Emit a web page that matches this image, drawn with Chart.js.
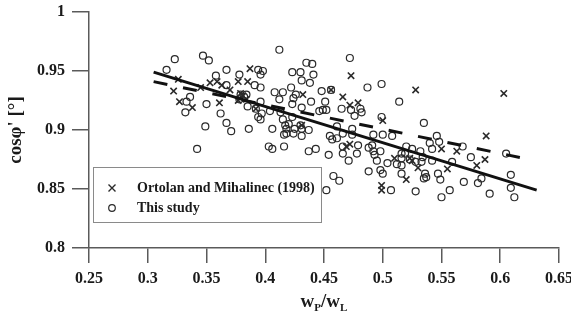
<!DOCTYPE html>
<html>
<head>
<meta charset="utf-8">
<script src="https://cdn.jsdelivr.net/npm/chart.js@4.4.0/dist/chart.umd.min.js"></script>
<style>
  body { margin: 0; background: #fff; }
</style>
</head>
<body>
<canvas id="cosChart" width="571" height="315"></canvas>
<script>
var xTicks = [0.25, 0.3, 0.35, 0.4, 0.45, 0.5, 0.55, 0.6, 0.65];
var yTicks = [0.8, 0.85, 0.9, 0.95, 1];

// Ortolan and Mihalinec (1998) - crosses
var ortolanX = [0.326, 0.322, 0.327, 0.338, 0.353, 0.359, 0.363, 0.370, 0.377, 0.385, 0.387,
    0.361, 0.377, 0.381, 0.345, 0.392, 0.473, 0.456, 0.466, 0.472, 0.479, 0.528, 0.603,
    0.588, 0.500, 0.432, 0.431, 0.472, 0.469, 0.499, 0.499, 0.510, 0.550, 0.563, 0.587,
    0.580, 0.555, 0.530, 0.523, 0.520, 0.525, 0.379, 0.384];
var ortolanY = [0.943, 0.933, 0.924, 0.919, 0.940, 0.941, 0.938, 0.934, 0.941, 0.941, 0.952,
    0.923, 0.925, 0.929, 0.936, 0.918, 0.946, 0.934, 0.928, 0.921, 0.923, 0.934, 0.931,
    0.895, 0.908, 0.930, 0.904, 0.888, 0.886, 0.853, 0.849, 0.876, 0.884, 0.882, 0.875,
    0.870, 0.867, 0.868, 0.876, 0.858, 0.874, 0.931, 0.926];

// This study - circles
var studyX = [0.323, 0.347, 0.352, 0.316, 0.367, 0.378, 0.358, 0.394, 0.398, 0.396,
    0.336, 0.333, 0.332, 0.350, 0.362, 0.367, 0.349, 0.371, 0.386, 0.406,
    0.385, 0.367, 0.412, 0.408, 0.415, 0.412, 0.397, 0.394, 0.396, 0.392,
    0.415, 0.417, 0.418, 0.413, 0.472, 0.435, 0.440, 0.423, 0.430, 0.441,
    0.431, 0.438, 0.422, 0.426, 0.424, 0.423, 0.448, 0.439, 0.451, 0.456,
    0.487, 0.499, 0.514, 0.535, 0.546, 0.449, 0.452, 0.465, 0.481, 0.499,
    0.473, 0.391, 0.396, 0.396, 0.404, 0.431, 0.446, 0.476, 0.482, 0.423,
    0.420, 0.430, 0.403, 0.406, 0.416, 0.437, 0.443, 0.454, 0.458, 0.463,
    0.452, 0.471, 0.466, 0.478, 0.479, 0.488, 0.498, 0.493, 0.498, 0.495,
    0.504, 0.507, 0.516, 0.418, 0.416, 0.425, 0.431, 0.437, 0.455, 0.461,
    0.461, 0.466, 0.474, 0.491, 0.500, 0.508, 0.512, 0.516, 0.540, 0.542,
    0.548, 0.568, 0.575, 0.559, 0.547, 0.549, 0.535, 0.537, 0.569, 0.581,
    0.584, 0.557, 0.550, 0.591, 0.609, 0.609, 0.612, 0.528, 0.532, 0.528,
    0.533, 0.520, 0.525, 0.516, 0.542, 0.516, 0.605, 0.500, 0.488, 0.492,
    0.519, 0.534, 0.536, 0.523, 0.474, 0.492, 0.457, 0.466, 0.342, 0.424,
    0.431, 0.379, 0.382, 0.378, 0.384];
var studyY = [0.960, 0.963, 0.959, 0.951, 0.951, 0.947, 0.946, 0.951, 0.950, 0.947,
    0.928, 0.924, 0.915, 0.922, 0.914, 0.906, 0.903, 0.899, 0.901, 0.901,
    0.920, 0.938, 0.968, 0.932, 0.932, 0.926, 0.914, 0.911, 0.909, 0.918,
    0.909, 0.904, 0.897, 0.915, 0.961, 0.957, 0.956, 0.949, 0.949, 0.947,
    0.942, 0.940, 0.936, 0.930, 0.927, 0.922, 0.933, 0.924, 0.924, 0.934,
    0.936, 0.939, 0.924, 0.906, 0.895, 0.917, 0.917, 0.918, 0.918, 0.911,
    0.917, 0.938, 0.936, 0.924, 0.916, 0.919, 0.916, 0.912, 0.915, 0.911,
    0.905, 0.904, 0.886, 0.884, 0.886, 0.882, 0.884, 0.879, 0.861, 0.857,
    0.849, 0.874, 0.880, 0.880, 0.887, 0.865, 0.866, 0.879, 0.882, 0.874,
    0.872, 0.849, 0.863, 0.901, 0.896, 0.901, 0.895, 0.900, 0.895, 0.893,
    0.903, 0.897, 0.901, 0.887, 0.896, 0.895, 0.871, 0.870, 0.889, 0.884,
    0.890, 0.886, 0.877, 0.873, 0.863, 0.858, 0.859, 0.860, 0.856, 0.855,
    0.859, 0.849, 0.843, 0.846, 0.862, 0.851, 0.843, 0.848, 0.882, 0.873,
    0.873, 0.886, 0.884, 0.880, 0.874, 0.876, 0.880, 0.863, 0.885, 0.882,
    0.880, 0.877, 0.863, 0.875, 0.896, 0.896, 0.892, 0.886, 0.884, 0.897,
    0.901, 0.930, 0.928, 0.926, 0.930];

// regression lines (end points)
var studyFitX = [0.305, 0.631];
var studyFitY = [0.949, 0.849];
var ortolanFitX = [0.305, 0.630];
var ortolanFitY = [0.941, 0.874];

function toPoints(xs, ys) {
    return xs.map(function(x, i) { return { x: x, y: ys[i] }; });
}

// 0.90 -> "0.9", 1.00 -> "1"
function plainLabel(value) {
    return String(Number(value.toFixed(2)));
}

var serif = '"Liberation Serif", "DejaVu Serif", serif';
var axisColor = '#5a5a5a';
var markColor = '#2a2a2a';

// legend box drawn inside the plot, bottom left
var legendBox = {
    id: 'legendBox',
    afterDatasetsDraw: function(chart) {
        var ctx = chart.ctx;
        var ds = chart.data.datasets;
        ctx.save();
        ctx.fillStyle = '#fff';
        ctx.fillRect(93, 167, 228, 55);
        ctx.strokeStyle = '#8a8a8a';
        ctx.lineWidth = 1;
        ctx.strokeRect(93.5, 167.5, 228, 55);

        ctx.strokeStyle = markColor;
        // cross
        ctx.lineWidth = 1.4;
        ctx.beginPath();
        ctx.moveTo(108.5, 184.5); ctx.lineTo(115.5, 191.5);
        ctx.moveTo(115.5, 184.5); ctx.lineTo(108.5, 191.5);
        ctx.stroke();
        // circle
        ctx.lineWidth = 1.2;
        ctx.beginPath();
        ctx.arc(112, 208, 3.3, 0, Math.PI * 2);
        ctx.stroke();

        ctx.fillStyle = '#1a1a1a';
        ctx.font = 'bold 14px ' + serif;
        ctx.textBaseline = 'middle';
        ctx.textAlign = 'left';
        ctx.fillText(ds[2].label, 137, 188);
        ctx.fillText(ds[3].label, 137, 208);
        ctx.restore();
    }
};

// x axis title with subscripts
var xTitle = {
    id: 'xTitle',
    afterDraw: function(chart) {
        var ctx = chart.ctx;
        var area = chart.chartArea;
        var parts = [
            { t: 'w', f: 'bold 19px ' + serif, dy: 0 },
            { t: 'P', f: 'bold 11px ' + serif, dy: 4 },
            { t: '/w', f: 'bold 19px ' + serif, dy: 0 },
            { t: 'L', f: 'bold 11px ' + serif, dy: 4 }
        ];
        ctx.save();
        ctx.fillStyle = '#1a1a1a';
        ctx.textBaseline = 'alphabetic';
        ctx.textAlign = 'left';
        var total = 0;
        parts.forEach(function(p) { ctx.font = p.f; p.w = ctx.measureText(p.t).width; total += p.w; });
        var x = (area.left + area.right) / 2 - total / 2;
        var base = 307;
        parts.forEach(function(p) {
            ctx.font = p.f;
            ctx.fillText(p.t, x, base + p.dy);
            x += p.w;
        });
        ctx.restore();
    }
};

var ctx = document.getElementById('cosChart').getContext('2d');
var cosChart = new Chart(ctx, {
    type: 'scatter',
    data: {
        datasets: [{
            label: 'fit this study',
            data: toPoints(studyFitX, studyFitY),
            showLine: true,
            borderColor: '#111',
            borderWidth: 3,
            pointRadius: 0,
            order: 0
        }, {
            label: 'fit Ortolan',
            data: toPoints(ortolanFitX, ortolanFitY),
            showLine: true,
            borderColor: '#111',
            borderWidth: 3,
            borderDash: [14, 16],
            pointRadius: 0,
            order: 0
        }, {
            label: 'Ortolan and Mihalinec (1998)',
            data: toPoints(ortolanX, ortolanY),
            pointStyle: 'crossRot',
            pointRadius: 4.5,
            borderColor: markColor,
            borderWidth: 1.6,
            order: 1
        }, {
            label: 'This study',
            data: toPoints(studyX, studyY),
            pointStyle: 'circle',
            pointRadius: 3.5,
            borderColor: markColor,
            backgroundColor: 'rgba(0,0,0,0)',
            borderWidth: 1.2,
            order: 2
        }]
    },
    options: {
        responsive: false,
        animation: false,
        layout: {
            padding: { top: 12, right: 12, left: 0, bottom: 0 }
        },
        scales: {
            x: {
                type: 'linear',
                min: 0.25,
                max: 0.65,
                afterBuildTicks: function(scale) {
                    scale.ticks = xTicks.map(function(v) { return { value: v }; });
                },
                afterFit: function(scale) {
                    scale.height = 67;
                    scale.paddingLeft = 0;
                    scale.paddingRight = 0;
                },
                grid: {
                    drawOnChartArea: false,
                    drawTicks: true,
                    tickLength: 15,
                    color: axisColor,
                    lineWidth: 1.5
                },
                border: { color: axisColor, width: 1.5 },
                ticks: {
                    color: '#1a1a1a',
                    padding: 6,
                    maxRotation: 0,
                    callback: plainLabel,
                    font: { family: serif, weight: 'bold', size: 16 }
                }
            },
            y: {
                min: 0.8,
                max: 1,
                afterBuildTicks: function(scale) {
                    scale.ticks = yTicks.map(function(v) { return { value: v }; });
                },
                afterFit: function(scale) {
                    scale.width = 89;
                    scale.paddingTop = 0;
                    scale.paddingBottom = 0;
                },
                grid: {
                    drawOnChartArea: false,
                    drawTicks: true,
                    tickLength: 17,
                    color: axisColor,
                    lineWidth: 1.5
                },
                border: { color: axisColor, width: 1.5 },
                ticks: {
                    color: '#1a1a1a',
                    padding: 7,
                    callback: plainLabel,
                    font: { family: serif, weight: 'bold', size: 16 }
                },
                title: {
                    display: true,
                    text: "cosφ' [°]",
                    color: '#1a1a1a',
                    padding: { top: 5, bottom: 0 },
                    font: { family: serif, weight: 'bold', size: 19 }
                }
            }
        },
        plugins: {
            legend: { display: false },
            tooltip: { enabled: false }
        }
    },
    plugins: [legendBox, xTitle]
});
</script>
</body>
</html>
